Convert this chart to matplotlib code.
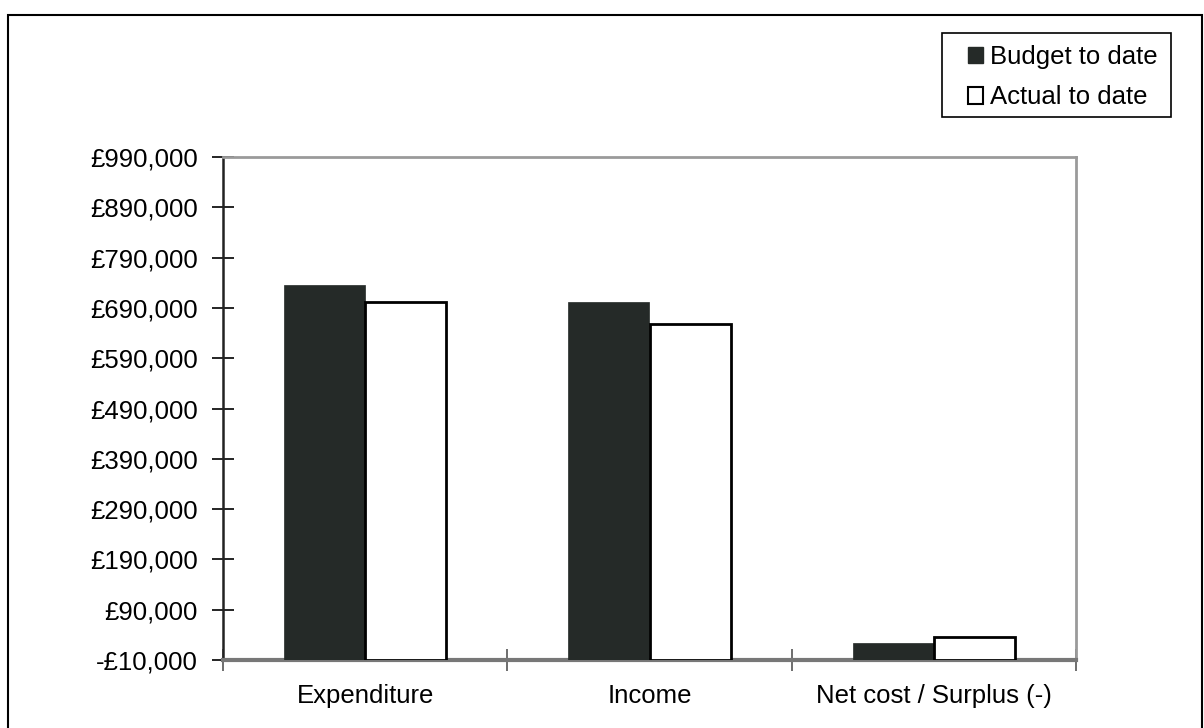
import matplotlib.pyplot as plt
from matplotlib.patches import Rectangle, Patch

categories = ['Expenditure', 'Income', 'Net cost / Surplus (-)']
budget_to_date = [735000, 701000, 24000]
actual_to_date = [702000, 658000, 35000]
y_ticks = [-10000, 90000, 190000, 290000, 390000, 490000, 590000, 690000, 790000, 890000, 990000]
y_labels = ['-£10,000', '£90,000', '£190,000', '£290,000', '£390,000', '£490,000',
            '£590,000', '£690,000', '£790,000', '£890,000', '£990,000']

plt.rcParams['font.family'] = ['Liberation Sans', 'DejaVu Sans']

fig = plt.figure(figsize=(12.04, 7.28), dpi=100)
ax = fig.add_axes([223 / 1204, 1 - 660 / 728, (1076 - 223) / 1204, (660 - 157) / 728])

ymin, ymax = y_ticks[0], y_ticks[-1]
w = 0.285
x = range(len(categories))
# Excel draws the bars up from where the category axis crosses (-£10,000)
ax.bar([i - w / 2 for i in x], [v - ymin for v in budget_to_date], w, bottom=ymin,
       color='#252a28', edgecolor='#252a28', linewidth=0.5, zorder=3)
ax.bar([i + w / 2 for i in x], [v - ymin for v in actual_to_date], w, bottom=ymin,
       color='white', edgecolor='black', linewidth=2, zorder=3)

ax.set_ylim(ymin, ymax)
ax.set_xlim(-0.5, len(categories) - 0.5)
ax.set_yticks(y_ticks)
ax.set_yticklabels(y_labels)
ax.set_xticks(list(x))
ax.set_xticklabels(categories)
ax.set_xticks([i - 0.5 for i in range(len(categories) + 1)], minor=True)

ax.tick_params(axis='y', direction='inout', length=16, width=1.2, pad=10, labelsize=18.5)
ax.tick_params(axis='x', which='major', length=0, pad=17, labelsize=18.5)
ax.tick_params(axis='x', which='minor', direction='inout', length=16, width=1.2, color='#555555')

ax.spines['left'].set_color('#222222')
ax.spines['left'].set_linewidth(1.8)
ax.spines['bottom'].set_color('#777777')
ax.spines['bottom'].set_linewidth(3)
for s in ['top', 'right']:
    ax.spines[s].set_color('#9a9a9a')
    ax.spines[s].set_linewidth(2)

# legend box
fig.patches.append(Rectangle((942 / 1204, 1 - 117 / 728), (1171 - 942) / 1204, 84 / 728,
                             transform=fig.transFigure, fill=True, facecolor='white',
                             edgecolor='black', linewidth=1.2))
handles = [Patch(facecolor='#252a28', edgecolor='#252a28'),
           Patch(facecolor='white', edgecolor='black', linewidth=1.5)]
leg = fig.legend(handles, ['Budget to date', 'Actual to date'],
                 loc='upper left', bbox_to_anchor=(968 / 1204, 1 - 45 / 728),
                 fontsize=18.5, frameon=False,
                 handlelength=0.6, handleheight=0.6, handletextpad=0.25,
                 borderpad=0, labelspacing=0.64, borderaxespad=0)

# outer chart border
fig.patches.append(Rectangle((8 / 1204, -0.02), (1202 - 8) / 1204, 1.02 - 15 / 728,
                             transform=fig.transFigure, fill=False,
                             edgecolor='black', linewidth=1.5))

fig.savefig('out.png', dpi=100)
